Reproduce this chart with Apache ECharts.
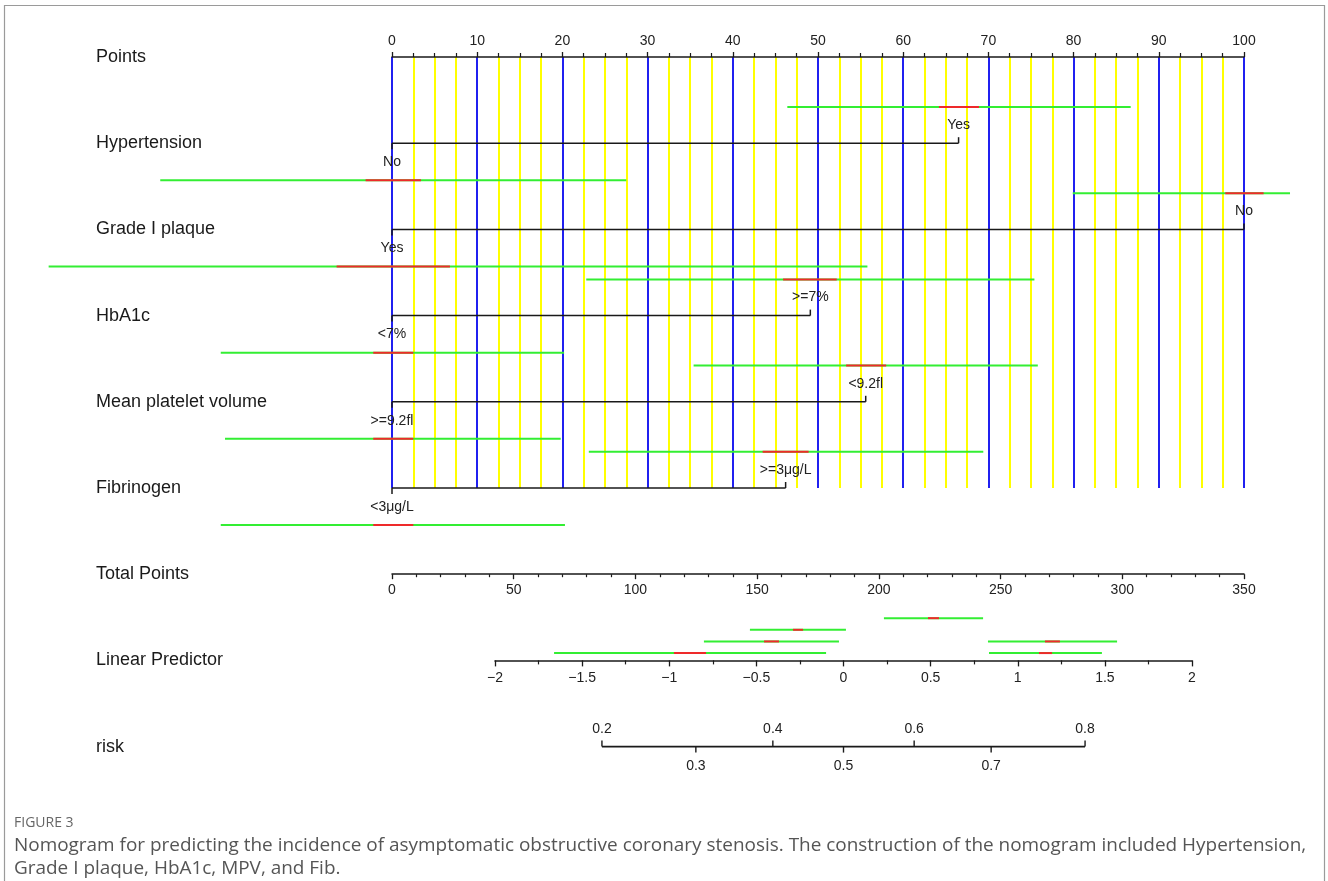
<!DOCTYPE html>
<html>
<head>
<meta charset="utf-8">
<script src="https://cdn.jsdelivr.net/npm/echarts@6/dist/echarts.min.js"></script>
<style>
html,body{margin:0;padding:0;background:#fff;}
#c{width:1328px;height:881px;}
</style>
</head>
<body>
<div id="c"></div>
<script>
// ---------------- DATA ----------------
const rowNames = ['Points', 'Hypertension', 'Grade I plaque', 'HbA1c', 'Mean platelet volume', 'Fibrinogen', 'Total Points', 'Linear Predictor', 'risk'];
const variables = ['Hypertension', 'Grade I plaque', 'HbA1c', 'Mean platelet volume', 'Fibrinogen'];
const levelLowLabels = ['No', 'Yes', '<7%', '>=9.2fl', '<3\u03bcg/L'];
const levelHighLabels = ['Yes', 'No', '>=7%', '<9.2fl', '>=3\u03bcg/L'];
const levelLowPoints = [0, 0, 0, 0, 0];
const levelHighPoints = [66.5, 100, 49.1, 55.6, 46.2];

const pointsRange = [0, 100, 10];
const totalRange = [0, 350, 50];
const lpRange = [-2, 2, 0.5];
const riskTicks = [0.2, 0.3, 0.4, 0.5, 0.6, 0.7, 0.8];

// upper interval bars (points scale): row of variable, side (-1 above / +1 below)
const ciRow      = [1, 1, 2, 2, 3, 3, 4, 4, 5, 5];
const ciSide     = [-1, 1, -1, 1, -1, 1, -1, 1, -1, 1];
const ciGreenLo  = [46.4, -27.2, 79.9, -40.3, 22.8, -20.1, 35.4, -19.6, 23.1, -20.1];
const ciGreenHi  = [86.7, 27.5, 105.4, 55.8, 75.4, 20.2, 75.8, 19.8, 69.4, 20.3];
const ciRedLo    = [64.2, -3.1, 97.8, -6.5, 45.9, -2.2, 53.3, -2.2, 43.5, -2.2];
const ciRedHi    = [68.9, 3.4, 102.3, 6.8, 52.2, 2.5, 58.0, 2.5, 48.9, 2.5];

// lower interval bars (linear predictor scale): lane 0..3 between Total Points and Linear Predictor
const lpLane     = [0, 1, 2, 2, 3, 3];
const lpGreenLo  = [0.232, -0.537, -0.801, 0.829, -1.661, 0.835];
const lpGreenHi  = [0.801, 0.014, -0.026, 1.570, -0.100, 1.483];
const lpRedLo    = [0.485, -0.290, -0.456, 1.156, -0.973, 1.122];
const lpRedHi    = [0.548, -0.232, -0.370, 1.242, -0.789, 1.197];

const captionTitle = 'FIGURE 3';
const captionLines = [
  'Nomogram for predicting the incidence of asymptomatic obstructive coronary stenosis. The construction of the nomogram included Hypertension,',
  'Grade I plaque, HbA1c, MPV, and Fib.'
];

// ---------------- LAYOUT ----------------
const X0 = 392, X1 = 1244, TOP = 57, ROW = 86.2;
const LPX0 = 495, LPX1 = 1192;
const FONT = 'Liberation Sans';
const GREEN = '#33ee33', RED = '#ee2a2a', BLACK = '#1a1a1a';

const chart = echarts.init(document.getElementById('c'), null, {renderer: 'canvas'});

const axisBase = (extra) => Object.assign({
  type: 'value',
  axisLine: {onZero: false, lineStyle: {color: BLACK, width: 1.5}},
  axisTick: {show: true, length: 5, lineStyle: {color: BLACK, width: 1.3}},
  axisLabel: {fontSize: 14, color: '#222', fontFamily: FONT},
  splitLine: {show: false}
}, extra);

function lineEl(x1, y1, x2, y2, color, w) {
  return {type: 'line', shape: {x1, y1, x2, y2}, style: {stroke: color, lineWidth: w}, silent: true};
}
function textEl(txt, x, y, size, align, color) {
  return {type: 'text', style: {text: txt, x, y, fontSize: size, fontFamily: FONT, fill: color || '#222', align: align || 'center', verticalAlign: 'middle'}, silent: true};
}

// caption font fit
const mctx = document.createElement('canvas').getContext('2d');
mctx.font = '16px "Open Sans"';
const capSize = 16 * 1294 / mctx.measureText(captionLines[0]).width;

const option = {
  animation: false,
  backgroundColor: '#fff',
  grid: [
    {left: X0, top: TOP, width: X1 - X0, height: 5 * ROW},
    {left: X0, top: TOP + 6 * ROW - 1, width: X1 - X0, height: 1},
    {left: LPX0, top: TOP + 6 * ROW, width: LPX1 - LPX0, height: ROW}
  ],
  xAxis: [
    axisBase({
      gridIndex: 0, position: 'top', min: pointsRange[0], max: pointsRange[1], interval: pointsRange[2],
      minorTick: {show: true, splitNumber: 4, length: 4, lineStyle: {color: BLACK, width: 1.2}},
      splitLine: {show: true, lineStyle: {color: '#2020f0', width: 2}},
      minorSplitLine: {show: true, lineStyle: {color: '#ffff00', width: 2}},
      axisLabel: {fontSize: 14, color: '#222', fontFamily: FONT, margin: 9}
    }),
    axisBase({
      gridIndex: 1, position: 'bottom', min: totalRange[0], max: totalRange[1], interval: totalRange[2],
      minorTick: {show: true, splitNumber: 5, length: 3, lineStyle: {color: BLACK, width: 1.2}},
      axisLabel: {fontSize: 14, color: '#222', fontFamily: FONT, margin: 9}
    }),
    axisBase({
      gridIndex: 2, position: 'bottom', min: lpRange[0], max: lpRange[1], interval: lpRange[2],
      axisTick: {show: true, length: 6, lineStyle: {color: BLACK, width: 1.3}},
      minorTick: {show: true, splitNumber: 2, length: 4, lineStyle: {color: BLACK, width: 1.2}},
      axisLabel: {fontSize: 14, color: '#222', fontFamily: FONT, margin: 11,
        formatter: v => String(v).replace('-', '\u2212')}
    })
  ],
  yAxis: [
    {type: 'value', gridIndex: 0, min: 0, max: 5, inverse: true, show: false},
    {type: 'value', gridIndex: 1, min: 0, max: 1, show: false},
    {type: 'value', gridIndex: 2, min: 6, max: 7, inverse: true, show: false}
  ],
  series: [
    // row names
    {
      type: 'custom', xAxisIndex: 0, yAxisIndex: 0, silent: true, z: 5,
      data: rowNames.map((n, i) => [0, i]),
      renderItem: (params, api) => {
        const y = api.coord([0, api.value(1)])[1];
        return textEl(rowNames[params.dataIndex], 96, y, 18, 'left', '#1a1a1a');
      }
    },
    // variable axes
    {
      type: 'custom', xAxisIndex: 0, yAxisIndex: 0, silent: true, z: 4,
      data: variables.map((v, i) => [levelLowPoints[i], levelHighPoints[i], i + 1]),
      renderItem: (params, api) => {
        const i = params.dataIndex;
        const a = api.coord([api.value(0), api.value(2)]);
        const b = api.coord([api.value(1), api.value(2)]);
        return {type: 'group', children: [
          lineEl(a[0], a[1], b[0], b[1], BLACK, 1.5),
          lineEl(a[0], a[1], a[0], a[1] + 6, BLACK, 1.5),
          lineEl(b[0], b[1], b[0], b[1] - 6, BLACK, 1.5),
          textEl(levelLowLabels[i], a[0], a[1] + 19, 14),
          textEl(levelHighLabels[i], b[0], b[1] - 18, 14)
        ]};
      }
    },
    // upper interval bars
    {
      type: 'custom', xAxisIndex: 0, yAxisIndex: 0, silent: true, z: 6,
      data: ciRow.map((r, i) => [ciGreenLo[i], ciGreenHi[i], ciRedLo[i], ciRedHi[i], r + (ciSide[i] < 0 ? -0.42 : 0.43)]),
      renderItem: (params, api) => {
        const y = api.value(4);
        const g0 = api.coord([api.value(0), y]), g1 = api.coord([api.value(1), y]);
        const r0 = api.coord([api.value(2), y]), r1 = api.coord([api.value(3), y]);
        return {type: 'group', children: [
          lineEl(g0[0], g0[1], g1[0], g1[1], GREEN, 2),
          lineEl(r0[0], r0[1], r1[0], r1[1], RED, 2)
        ]};
      }
    },
    // lower interval bars
    {
      type: 'custom', xAxisIndex: 2, yAxisIndex: 2, silent: true, z: 6,
      data: lpLane.map((l, i) => [lpGreenLo[i], lpGreenHi[i], lpRedLo[i], lpRedHi[i], 6.51 + l * 0.135]),
      renderItem: (params, api) => {
        const y = api.value(4);
        const g0 = api.coord([api.value(0), y]), g1 = api.coord([api.value(1), y]);
        const r0 = api.coord([api.value(2), y]), r1 = api.coord([api.value(3), y]);
        return {type: 'group', children: [
          lineEl(g0[0], g0[1], g1[0], g1[1], GREEN, 2),
          lineEl(r0[0], r0[1], r1[0], r1[1], RED, 2)
        ]};
      }
    },
    // risk axis line
    {
      type: 'custom', xAxisIndex: 2, yAxisIndex: 2, silent: true, z: 4,
      data: [[Math.log(riskTicks[0] / (1 - riskTicks[0])), Math.log(riskTicks[riskTicks.length - 1] / (1 - riskTicks[riskTicks.length - 1])), 8]],
      renderItem: (params, api) => {
        const a = api.coord([api.value(0), api.value(2)]);
        const b = api.coord([api.value(1), api.value(2)]);
        return lineEl(a[0], a[1], b[0], b[1], BLACK, 1.6);
      }
    },
    // risk ticks and labels (logit scale mapped onto the linear predictor axis)
    {
      type: 'custom', xAxisIndex: 2, yAxisIndex: 2, silent: true, z: 4,
      data: riskTicks.map((r, i) => [Math.log(r / (1 - r)), 8, i]),
      renderItem: (params, api) => {
        const i = api.value(2);
        const p = api.coord([api.value(0), api.value(1)]);
        const up = i % 2 === 0;
        return {type: 'group', children: [
          lineEl(p[0], p[1], p[0], p[1] + (up ? -6 : 6), BLACK, 1.4),
          textEl(String(riskTicks[i]), p[0], p[1] + (up ? -17 : 20), 14)
        ]};
      }
    }
  ],
  graphic: [
    {type: 'rect', shape: {x: 4.5, y: 5.5, width: 1320, height: 900}, style: {fill: 'none', stroke: '#9a9a9a', lineWidth: 1.2}, silent: true, z: 100},
    {type: 'text', x: 14, y: 823, style: {text: captionTitle, fontSize: 14, fontFamily: 'Open Sans', fill: '#666', verticalAlign: 'middle'}, silent: true},
    {type: 'text', x: 14, y: 846, style: {text: captionLines[0], fontSize: +capSize.toFixed(2), fontFamily: 'Open Sans', fill: '#555', verticalAlign: 'middle'}, silent: true},
    {type: 'text', x: 14, y: 869, style: {text: captionLines[1], fontSize: +capSize.toFixed(2), fontFamily: 'Open Sans', fill: '#555', verticalAlign: 'middle'}, silent: true}
  ]
};
chart.setOption(option);
</script>
</body>
</html>
